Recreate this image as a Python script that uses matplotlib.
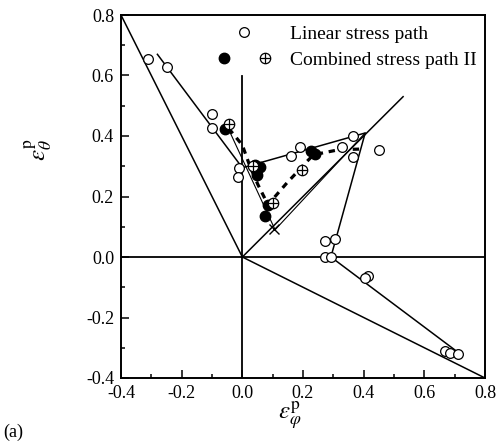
import matplotlib
matplotlib.use("Agg")
import matplotlib.pyplot as plt
from matplotlib.lines import Line2D
from matplotlib.path import Path
from matplotlib.ticker import MultipleLocator, FormatStrFormatter
from matplotlib.legend_handler import HandlerTuple

plt.rcParams["font.family"] = ["Liberation Serif", "DejaVu Serif"]
plt.rcParams["mathtext.fontset"] = "stix"

# Measured plastic strain points (eps_phi, eps_theta)
linear_x = [-0.31, -0.25, -0.10, -0.10, -0.01, -0.015, 0.16, 0.19, 0.33, 0.365,
            0.365, 0.45, 0.273, 0.305, 0.273, 0.292, 0.414, 0.405, 0.668, 0.685, 0.712]
linear_y = [0.655, 0.628, 0.473, 0.426, 0.294, 0.266, 0.334, 0.364, 0.362, 0.40,
            0.33, 0.354, 0.053, 0.058, 0.0, 0.0, -0.063, -0.069, -0.311, -0.318, -0.321]

combined_solid_x = [-0.057, 0.042, 0.058, 0.048, 0.085, 0.075, 0.227, 0.24]
combined_solid_y = [0.423, 0.304, 0.298, 0.27, 0.172, 0.135, 0.352, 0.34]

combined_cross_x = [-0.044, 0.035, 0.10, 0.197]
combined_cross_y = [0.440, 0.302, 0.180, 0.286]

# Strain path polylines
path_a_x = [-0.4, 0.0, 0.8]
path_a_y = [0.8, 0.0, -0.4]
path_b_x = [0.0, 0.53]
path_b_y = [0.0, 0.53]
path_c_x = [-0.28, 0.0, 0.405, 0.292, 0.715]
path_c_y = [0.67, 0.295, 0.41, 0.0, -0.318]
path_d_x = [-0.047, 0.108]
path_d_y = [0.426, 0.09]
path_e_x = [0.108, 0.405]
path_e_y = [0.09, 0.41]
cross_mark_x = [0.105]
cross_mark_y = [0.094]

# Combined stress path II trajectory
dash_x = [-0.045, 0.0, 0.025, 0.052, 0.085, 0.108, 0.147, 0.18, 0.207, 0.235, 0.32, 0.40]
dash_y = [0.425, 0.37, 0.30, 0.238, 0.172, 0.2, 0.245, 0.28, 0.31, 0.338, 0.355, 0.357]

# circle-with-plus marker
oplus = Path.make_compound_path(
    Path.unit_circle(),
    Path([[-1, 0], [1, 0]], [Path.MOVETO, Path.LINETO]),
    Path([[0, -1], [0, 1]], [Path.MOVETO, Path.LINETO]),
)

fig = plt.figure(figsize=(4.97, 4.43), dpi=100)
ax = fig.add_axes([121 / 497, 1 - 378 / 443, 364 / 497, 363 / 443])

ax.set_xlim(-0.4, 0.8)
ax.set_ylim(-0.4, 0.8)

# reference axes through the origin
ax.axhline(0.0, color="black", lw=1.3, zorder=1)
ax.plot([0.0, 0.0], [-0.4, 0.6], color="black", lw=1.3, zorder=1)

ax.plot(path_a_x, path_a_y, color="black", lw=1.1, zorder=2)
ax.plot(path_b_x, path_b_y, color="black", lw=1.1, zorder=2)
ax.plot(path_c_x, path_c_y, color="black", lw=1.1, zorder=2)
ax.plot(path_d_x, path_d_y, color="black", lw=0.8, zorder=2)
ax.plot(path_e_x, path_e_y, color="black", lw=0.8, zorder=2)
ax.plot(cross_mark_x, cross_mark_y, marker="x", color="black", ms=7, mew=1.0,
        ls="none", zorder=3)

ax.plot(dash_x, dash_y, color="black", lw=2.3, ls=(0, (2.0, 1.8)), zorder=3)

ax.plot(linear_x, linear_y, ls="none", marker="o", ms=7, mfc="white",
        mec="black", mew=0.9, zorder=4)
ax.plot(combined_solid_x, combined_solid_y, ls="none", marker="o", ms=7.5,
        mfc="black", mec="black", zorder=5)
ax.plot(combined_cross_x, combined_cross_y, ls="none", marker=oplus, ms=7.5,
        mfc="white", mec="black", mew=0.9, zorder=6)

# legend
h_lin = Line2D([], [], ls="none", marker="o", ms=7, mfc="white", mec="black", mew=0.9)
h_fill = Line2D([], [], ls="none", marker="o", ms=7.5, mfc="black", mec="black")
h_cross = Line2D([], [], ls="none", marker=oplus, ms=7.5, mfc="white", mec="black", mew=0.9)
ax.legend([h_lin, (h_fill, h_cross)],
          ["Linear stress path", "Combined stress path II"],
          handler_map={tuple: HandlerTuple(ndivide=None, pad=1.6)},
          loc="upper left", bbox_to_anchor=(0.248, 0.993), frameon=False,
          fontsize=14, handlelength=2.6, handletextpad=1.05,
          labelspacing=0.45, borderaxespad=0.0)

for s in ax.spines.values():
    s.set_linewidth(1.4)

ax.xaxis.set_major_locator(MultipleLocator(0.2))
ax.xaxis.set_minor_locator(MultipleLocator(0.1))
ax.yaxis.set_major_locator(MultipleLocator(0.2))
ax.yaxis.set_minor_locator(MultipleLocator(0.1))
ax.tick_params(which="both", direction="in", top=False, right=False,
               labelsize=13, width=1.1)
ax.tick_params(which="major", length=6, pad=5)
ax.tick_params(which="minor", length=3)
ax.xaxis.set_major_formatter(FormatStrFormatter("%.1f"))
ax.yaxis.set_major_formatter(FormatStrFormatter("%.1f"))

fig.text(290 / 497, 1 - 416 / 443, r"$\varepsilon_{\varphi}^{\mathrm{p}}$",
         fontsize=18, ha="center", va="center")
fig.text(38 / 497, 1 - 150 / 443, r"$\varepsilon_{\theta}^{\mathrm{p}}$",
         fontsize=18, ha="center", va="center", rotation=90)
fig.text(3 / 497, 1 - 432 / 443, "(a)", fontsize=13, ha="left", va="center")

fig.savefig("out.png", dpi=100)
